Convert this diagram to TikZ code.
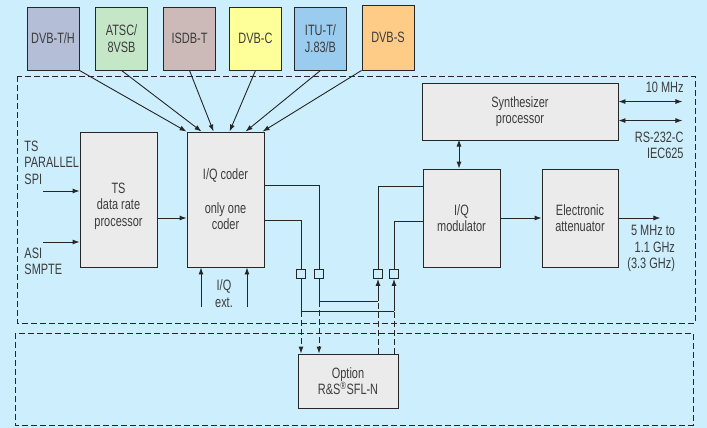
\documentclass[tikz,border=0pt]{standalone}
\usepackage{fontspec}
\setmainfont{Liberation Sans}[FakeStretch=0.73]
\usepackage{tikz}
\usetikzlibrary{arrows.meta}

\definecolor{bgblue}{RGB}{205,238,252}
\definecolor{boxgray}{RGB}{235,235,235}
\definecolor{txtgray}{RGB}{60,60,60}
\definecolor{cdvbth}{RGB}{180,190,214}
\definecolor{catsc}{RGB}{198,230,200}
\definecolor{cisdb}{RGB}{204,186,184}
\definecolor{cdvbc}{RGB}{255,255,153}
\definecolor{citu}{RGB}{153,204,238}
\definecolor{cdvbs}{RGB}{255,204,136}

\begin{document}
\begin{tikzpicture}[x=1pt, y=-1pt,
    line width=0.9pt, color=black!85,
    >={Latex[length=7pt,width=5pt]},
    every node/.style={text=txtgray, font=\fontsize{15}{16.5}\selectfont},
    block/.style={draw, fill=boxgray, inner sep=0pt, align=center},
    std box/.style={block, minimum width=52, minimum height=63},
    switch/.style={draw, minimum size=9, inner sep=0pt},
    frame line/.style={dash pattern=on 6pt off 3pt}]
  \fill[bgblue] (0,0) rectangle (707,428);
  \useasboundingbox (0,0) rectangle (707,428);

  % frames
  \draw[frame line] (17,76) rectangle (695,323);
  \draw[frame line] (15,333) rectangle (693,425);

  % standards
  \node[std box, fill=cdvbth] (dvbth) at (53,38.5) {DVB-T/H};
  \node[std box, fill=catsc] (atsc) at (121.5,38.5) {ATSC/\\8VSB};
  \node[std box, fill=cisdb] (isdb) at (189.5,38.5) {ISDB-T};
  \node[std box, fill=cdvbc] (dvbc) at (255.5,38.5) {DVB-C};
  \node[std box, fill=citu] (itu) at (320.5,38.5) {ITU-T/\\J.83/B};
  \node[std box, fill=cdvbs, minimum height=65] (dvbs) at (388,37.5) {DVB-S};

  % main blocks
  \node[block, minimum width=77, minimum height=135] (tsp) at (118.5,199.5) {};
  \node[align=center] (tsptext) at ([yshift=-6.5pt]tsp.center) {TS\\data rate\\processor};
  \node[block, minimum width=77, minimum height=135] (coder) at (225.5,199.5) {I/Q coder\\[17pt]only one\\coder};
  \node[block, minimum width=196, minimum height=57] (synth) at (520,111.5) {Synthesizer\\processor};
  \node[block, minimum width=77, minimum height=98] (mod) at (461.5,218) {I/Q\\modulator};
  \node[block, minimum width=76, minimum height=98] (att) at (580,218) {Electronic\\attenuator};
  \node[block, minimum width=100, minimum height=54] (opt) at (348,381) {Option\\R\&S\textsuperscript{\textregistered}SFL-N};

  % switches
  \node[switch] (sqa) at (301,274) {};
  \node[switch] (sqb) at (319,274) {};
  \node[switch] (sqc) at (378,274) {};
  \node[switch] (sqd) at (394,274) {};
  \coordinate (ja) at (301,311);
  \coordinate (jb) at (319,301);
  \coordinate (jc) at (378,301);
  \coordinate (jd) at (394,311);

  % inputs
  \node[anchor=west, align=left, inner sep=0pt] (tsin) at (24,162.5) {TS\\PARALLEL\\SPI};
  \node[anchor=west, align=left, inner sep=0pt] (asiin) at (24,261.5) {ASI\\SMPTE};
  \coordinate (tsa) at (43,191);
  \coordinate (asia) at (43,242);
  \node[align=center] (iqext) at (224,293.5) {I/Q\\ext.};

  % outputs
  \node[anchor=east, inner sep=0pt] (tenmhz) at (684,87) {10 MHz};
  \node[anchor=east, align=right, inner sep=0pt] (rs) at (684,145.5) {RS-232-C\\IEC625};
  \node[anchor=west, align=right, inner sep=0pt] (rfout) at (627,248.5) {5 MHz to\\1.1 GHz\\(3.3 GHz)};

  \foreach \src/\dx in {dvbth.south east/0, atsc.south/15, isdb.south/27,
      dvbc.south/43, itu.south/59, dvbs.south west/76}
    \draw[->] (\src) -- ([xshift=\dx pt]coder.north west);

  \draw[->] (tsa) -- (tsa -| tsp.west);
  \draw[->] (asia) -- (asia -| tsp.west);
  \draw[->] ([yshift=-18.5pt]tsp.east) -- ([yshift=-18.5pt]coder.west);
  \draw[->] ([xshift=-24.5pt]coder.south) ++(0,40) -- ++(0,-40);
  \draw[->] ([xshift=21.5pt]coder.south) ++(0,40) -- ++(0,-40);

  % coder to modulator, via switches
  \draw ([yshift=-54pt]coder.north east) -| (sqb.north);
  \draw ([yshift=-89pt]coder.north east) -| (sqa.north);
  \draw (sqb.south) -- (jb) -- (jc);
  \draw (sqa.south) -- (ja) -- (jd);
  \draw[->] (jc) -- (sqc.south);
  \draw[->] (jd) -- (sqd.south);
  \draw (sqc.north) |- ([yshift=-18pt]mod.north west);
  \draw (sqd.north) |- ([yshift=-53pt]mod.north west);
  \draw[frame line, ->] (ja) -- (ja |- opt.north);
  \draw[frame line, ->] (jb) -- (jb |- opt.north);
  \draw[frame line] (opt.north -| jc) -- (jc);
  \draw[frame line] (opt.north -| jd) -- (jd);

  \draw[<->] ([xshift=-2.5pt]mod.north) -- ++(0,-29);
  \draw[<->] ([yshift=-19pt]synth.north east) -- ++(64,0);
  \draw[<->] ([yshift=-38pt]synth.north east) -- ++(64,0);
  \draw[->] (mod.east) -- (att.west);
  \draw[->] (att.east) -- ++(42,0);
\end{tikzpicture}
\end{document}
